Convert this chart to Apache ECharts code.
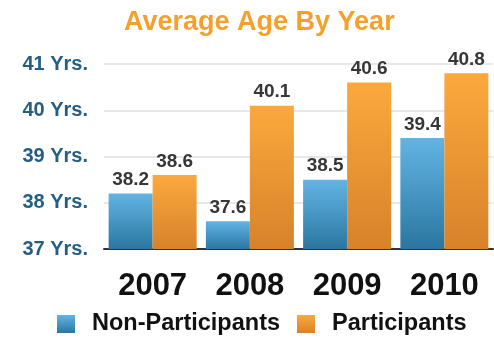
<!DOCTYPE html>
<html><head><meta charset="utf-8">
<script src="https://cdn.jsdelivr.net/npm/echarts@6/dist/echarts.min.js"></script>
<style>html,body{margin:0;padding:0;background:#fff;}#c{width:494px;height:339px;}</style>
</head><body><div id="c"></div>
<script>
const categories = ['2007', '2008', '2009', '2010'];
const nonParticipants = [38.2, 37.6, 38.5, 39.4];
const participants = [38.6, 40.1, 40.6, 40.8];
const seriesNames = ['Non-Participants', 'Participants'];
const yTickSuffix = ' Yrs.';

const FONT = "'Liberation Sans', Arial, Helvetica, sans-serif";
const blueGrad = new echarts.graphic.LinearGradient(0, 0, 0, 1, [
  {offset: 0, color: '#63b4e4'}, {offset: 1, color: '#2a76a0'}]);
const orangeGrad = new echarts.graphic.LinearGradient(0, 0, 0, 1, [
  {offset: 0, color: '#fba93d'}, {offset: 1, color: '#d7822a'}]);
const labelCfg = {
  show: true, position: 'top', distance: 4,
  fontFamily: FONT, fontWeight: 'bold', fontSize: 19, color: '#363636',
  textShadowColor: 'rgba(255,255,255,0.9)', textShadowBlur: 1, textShadowOffsetY: 1,
  formatter: p => p.value.toFixed(1)
};
const chart = echarts.init(document.getElementById('c'));
chart.setOption({
  animation: false,
  title: {
    text: 'Average Age By Year', left: 119, top: 4,
    textStyle: {fontFamily: FONT, fontWeight: 'bold', fontSize: 27, color: '#f5a02a'}
  },
  grid: {left: 104, right: 1, top: 64, bottom: 90},
  legend: {
    data: [
      {name: seriesNames[0], itemStyle: {color: blueGrad}},
      {name: seriesNames[1], itemStyle: {color: orangeGrad}}
    ],
    left: 57, bottom: 3, padding: 0, itemWidth: 18, itemHeight: 18, itemGap: 17, icon: 'rect',
    textStyle: {fontFamily: FONT, fontWeight: 'bold', fontSize: 23.5, color: '#111', padding: [0, 0, 0, 12]}
  },
  xAxis: {
    type: 'category', data: categories,
    axisLine: {lineStyle: {color: '#333', width: 2}},
    axisTick: {show: false},
    axisLabel: {fontFamily: FONT, fontWeight: 'bold', fontSize: 31, color: '#111', margin: 22}
  },
  yAxis: {
    type: 'value', min: 37, max: 41, interval: 1,
    axisLine: {show: false}, axisTick: {show: false},
    splitLine: {lineStyle: {color: '#e8e8e8', width: 2}},
    axisLabel: {fontFamily: FONT, fontWeight: 'bold', fontSize: 20, color: '#245e84', margin: 16,
      formatter: v => v + yTickSuffix}
  },
  series: [
    {name: seriesNames[0], type: 'bar', data: nonParticipants, barGap: '0%', barCategoryGap: '9.5%',
     itemStyle: {color: blueGrad}, label: labelCfg},
    {name: seriesNames[1], type: 'bar', data: participants, barGap: '0%', barCategoryGap: '9.5%',
     itemStyle: {color: orangeGrad}, label: labelCfg}
  ]
});
</script></body></html>
